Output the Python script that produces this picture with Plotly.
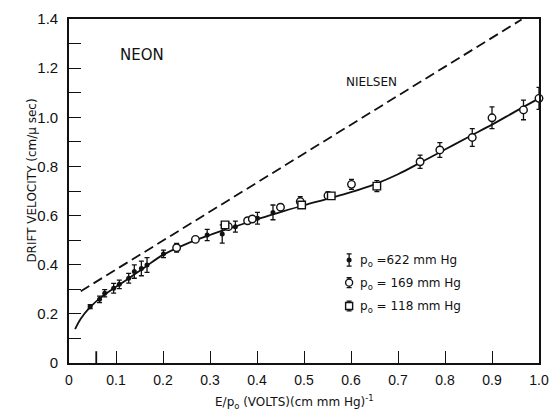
import plotly.graph_objects as go

# ---- data ----
x_622 = [0.045, 0.065, 0.076, 0.095, 0.107, 0.127, 0.139, 0.154, 0.166, 0.201, 0.294, 0.326, 0.354, 0.401, 0.434]
y_622 = [0.229, 0.259, 0.284, 0.304, 0.320, 0.345, 0.372, 0.385, 0.399, 0.444, 0.521, 0.525, 0.555, 0.589, 0.613]
e_622 = [0.008, 0.013, 0.015, 0.020, 0.017, 0.020, 0.027, 0.030, 0.030, 0.015, 0.023, 0.037, 0.022, 0.024, 0.030]

x_169 = [0.229, 0.269, 0.339, 0.380, 0.390, 0.450, 0.492, 0.551, 0.601, 0.747, 0.789, 0.858, 0.900, 0.967, 1.000]
y_169 = [0.469, 0.503, 0.555, 0.579, 0.586, 0.634, 0.657, 0.681, 0.727, 0.819, 0.867, 0.918, 0.998, 1.030, 1.077]
e_169 = [0.018, 0.0, 0.0, 0.0, 0.0, 0.0, 0.020, 0.015, 0.020, 0.027, 0.030, 0.036, 0.044, 0.040, 0.045]

x_118 = [0.332, 0.495, 0.558, 0.655]
y_118 = [0.562, 0.643, 0.680, 0.720]
e_118 = [0.0, 0.0, 0.010, 0.022]

curve_x = [0.013, 0.025, 0.045, 0.070, 0.100, 0.130, 0.160, 0.200, 0.250, 0.300, 0.350, 0.400, 0.450,
           0.500, 0.550, 0.600, 0.650, 0.700, 0.750, 0.800, 0.850, 0.900, 0.950, 1.000]
curve_y = [0.138, 0.180, 0.227, 0.270, 0.310, 0.348, 0.388, 0.440, 0.485, 0.521, 0.553, 0.585, 0.614,
           0.642, 0.668, 0.695, 0.727, 0.768, 0.818, 0.869, 0.920, 0.970, 1.024, 1.077]

nielsen_x = [0.025, 0.963]
nielsen_y = [0.292, 1.398]

legend_labels = ["p<sub>o</sub> =622 mm Hg", "p<sub>o</sub> = 169 mm Hg", "p<sub>o</sub> = 118 mm Hg"]
legend_y = [0.419, 0.327, 0.232]
legend_err = [0.025, 0.02, 0.02]
legend_x = 0.596

x_ticks = [0, 0.1, 0.2, 0.3, 0.4, 0.5, 0.6, 0.7, 0.8, 0.9, 1.0]
x_ticktext = ["0", "0.1", "0.2", "0.3", "0.4", "0.5", "0.6", "0.7", "0.8", "0.9", "1.0"]
y_ticks = [0, 0.2, 0.4, 0.6, 0.8, 1.0, 1.2, 1.4]
y_ticktext = ["0", "0.2", "0.4", "0.6", "0.8", "1.0", "1.2", "1.4"]
marker_tick_x = 0.058

FONT = "DejaVu Sans"
TICKFONT = "Liberation Sans Narrow, Liberation Sans, sans-serif"
INK = "#111111"

fig = go.Figure()

# Nielsen dashed line
fig.add_trace(go.Scatter(x=nielsen_x, y=nielsen_y, mode="lines",
                         line=dict(color=INK, width=1.8, dash="10px,5px"), hoverinfo="skip"))
# fitted solid curve
fig.add_trace(go.Scatter(x=curve_x, y=curve_y, mode="lines", line_shape="spline",
                         line=dict(color=INK, width=1.8), hoverinfo="skip"))

def err(e):
    return dict(type="data", array=e, visible=True, color=INK, thickness=1.3, width=2.5)

fig.add_trace(go.Scatter(x=x_622, y=y_622, mode="markers", error_y=err(e_622),
                         marker=dict(symbol="circle", size=5, color=INK), cliponaxis=False))
fig.add_trace(go.Scatter(x=x_169, y=y_169, mode="markers", error_y=err(e_169),
                         marker=dict(symbol="circle", size=7.5, color="white",
                                     line=dict(color=INK, width=1.4)), cliponaxis=False))
fig.add_trace(go.Scatter(x=x_118, y=y_118, mode="markers", error_y=err(e_118),
                         marker=dict(symbol="square", size=7.5, color="white",
                                     line=dict(color=INK, width=1.4)), cliponaxis=False))

# hand-drawn style legend
leg_sym = [dict(symbol="circle", size=5, color=INK),
           dict(symbol="circle", size=7, color="white", line=dict(color=INK, width=1.4)),
           dict(symbol="square", size=7, color="white", line=dict(color=INK, width=1.4))]
for i in range(3):
    fig.add_trace(go.Scatter(x=[legend_x], y=[legend_y[i]], mode="markers",
                             error_y=err([legend_err[i]]), marker=leg_sym[i], hoverinfo="skip"))
    fig.add_annotation(x=legend_x, y=legend_y[i], xref="x", yref="y", text=legend_labels[i],
                       showarrow=False, xanchor="left", xshift=9, yshift=-1,
                       font=dict(family=FONT, size=12, color=INK))

# special tick mark below the axis
fig.add_shape(type="line", x0=marker_tick_x, x1=marker_tick_x, y0=-0.042, y1=0.048,
              xref="x", yref="y", line=dict(color=INK, width=1.8))

fig.add_annotation(x=0.105, y=1.255, xref="x", yref="y", text="NEON", showarrow=False,
                   xanchor="left", font=dict(family=FONT, size=15, color=INK))
fig.add_annotation(x=0.585, y=1.145, xref="x", yref="y", text="NIELSEN", showarrow=False,
                   xanchor="left", font=dict(family=FONT, size=12, color=INK))

# axis titles
fig.add_annotation(x=-0.098, y=0.53, xref="paper", yref="paper", text="DRIFT VELOCITY (cm/\u03bc sec)",
                   textangle=-90, showarrow=False, font=dict(family=FONT, size=12, color=INK))
fig.add_annotation(x=0.48, y=-0.113, xref="paper", yref="paper",
                   text="E/p<sub>o</sub> (VOLTS)(cm mm Hg)<sup>-1</sup>", showarrow=False,
                   yanchor="middle", font=dict(family=FONT, size=12, color=INK))

fig.update_layout(
    width=559, height=410, margin=dict(l=69, r=10, t=19, b=47),
    paper_bgcolor="white", plot_bgcolor="white", showlegend=False,
    font=dict(family=FONT, size=13, color=INK),
    xaxis=dict(range=[0, 1.0], tickvals=x_ticks, ticktext=x_ticktext, ticks="inside", ticklen=12,
               tickwidth=1.2, tickcolor=INK, showline=True, linecolor=INK, linewidth=1.6, mirror=True,
               showgrid=False, zeroline=False, ticklabelstandoff=3,
               tickfont=dict(family=TICKFONT, size=14)),
    yaxis=dict(range=[0, 1.4], tickvals=y_ticks, ticktext=y_ticktext, ticks="inside", ticklen=12,
               tickwidth=1.2, tickcolor=INK, showline=True, linecolor=INK, linewidth=1.6, mirror=True,
               showgrid=False, zeroline=False, ticklabelstandoff=6,
               tickfont=dict(family=TICKFONT, size=15),
               minor=dict(dtick=0.1, tick0=0, ticks="inside", ticklen=12, tickwidth=1.2, tickcolor=INK)),
)

# remove the browser's default 8px body margin so the figure fills the window exactly
fig.write_html("out.html", config={"displayModeBar": False},
               post_script="document.body.style.margin='0px';")
